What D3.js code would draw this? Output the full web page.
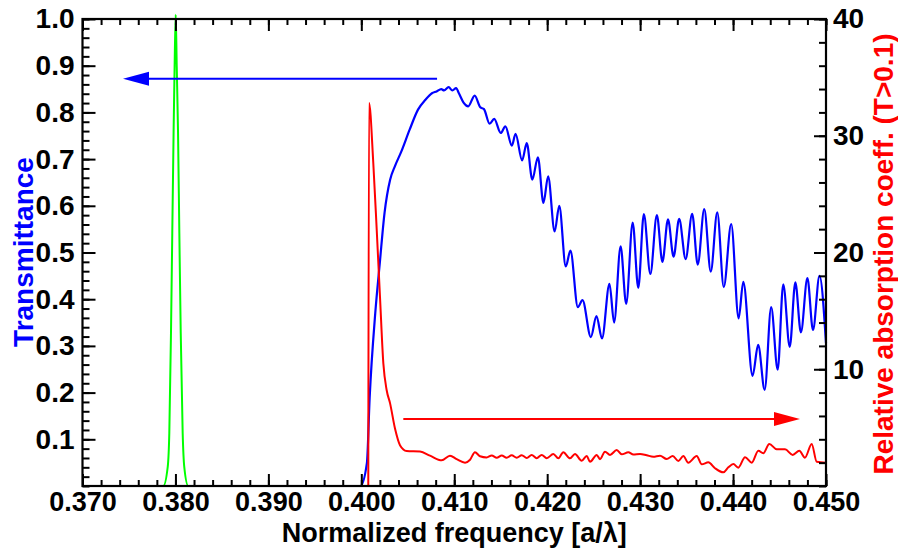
<!DOCTYPE html>
<html>
<head>
<meta charset="utf-8">
<script src="https://cdn.jsdelivr.net/npm/d3@7"></script>
<style>
  html, body { margin: 0; padding: 0; background: #fff; }
  svg text { font-family: "Liberation Sans", Arial, sans-serif; font-weight: bold; }
</style>
</head>
<body>
<svg id="chart" width="898" height="552"></svg>
<script>
// ---- data ----
const xTicks = [0.370, 0.380, 0.390, 0.400, 0.410, 0.420, 0.430, 0.440, 0.450];
const yLeftTicks = [0.1, 0.2, 0.3, 0.4, 0.5, 0.6, 0.7, 0.8, 0.9, 1.0];
const yRightTicks = [10, 20, 30, 40];

// Transmittance (blue), [frequency, T]
const transmittance = [
  [0.370,0],[0.3999,0],[0.4006,0.049],[0.4009,0.19],[0.4015,0.37],[0.4020,0.48],[0.4025,0.585],
  [0.4031,0.656],[0.4036,0.684],[0.4043,0.716],[0.4052,0.763],[0.4061,0.806],[0.4069,0.827],
  [0.4076,0.841],[0.4081,0.845],[0.4086,0.85],[0.4089,0.847],[0.4094,0.854],[0.4098,0.847],
  [0.4102,0.852],[0.4105,0.841],[0.4110,0.821],[0.4115,0.813],[0.4122,0.836],[0.4128,0.811],
  [0.4132,0.807],[0.4138,0.776],[0.4143,0.786],[0.4150,0.756],[0.4155,0.77],[0.4162,0.729],
  [0.4166,0.754],[0.4173,0.697],[0.4178,0.734],[0.4184,0.656],[0.4190,0.704],[0.4196,0.606],
  [0.4201,0.663],[0.4208,0.545],[0.4213,0.6],[0.4220,0.47],[0.4225,0.504],[0.4233,0.383],
  [0.4238,0.398],[0.4247,0.319],[0.4253,0.364],[0.4259,0.316],[0.4267,0.433],[0.4272,0.35],
  [0.4279,0.513],[0.4285,0.39],[0.4292,0.564],[0.4298,0.424],[0.4304,0.582],[0.4311,0.454],
  [0.4318,0.58],[0.4324,0.48],[0.4330,0.571],[0.4336,0.491],[0.4342,0.572],[0.4349,0.486],
  [0.4356,0.583],[0.4362,0.474],[0.4369,0.593],[0.4376,0.459],[0.4383,0.586],[0.4390,0.426],
  [0.4398,0.561],[0.4406,0.359],[0.4411,0.437],[0.4421,0.236],[0.4427,0.302],[0.4434,0.206],
  [0.4441,0.383],[0.4448,0.249],[0.4454,0.432],[0.4461,0.298],[0.4467,0.436],[0.4473,0.329],
  [0.4480,0.445],[0.4486,0.334],[0.4493,0.45],[0.4500,0.306]
];

// Relative absorption coefficient (red, right axis), [frequency, value]
const absorption = [
  [0.40075,0],[0.40083,32.8],[0.40129,27.65],[0.40166,21.9],[0.40201,16.2],[0.40237,10.5],
  [0.40273,8.2],[0.40309,7.1],[0.40363,4.9],[0.40416,3.5],[0.40488,3.0],[0.40632,2.95],
  [0.40739,2.6],[0.40865,2.2],[0.40954,2.6],[0.41026,2.3],[0.41116,2.0],[0.4117,2.25],
  [0.41223,2.9],[0.41277,2.55],[0.41349,2.45],[0.41403,2.62],[0.41457,2.42],[0.41511,2.62],
  [0.41564,2.42],[0.41618,2.64],[0.41672,2.42],[0.41726,2.64],[0.4178,2.4],[0.41833,2.66],
  [0.41887,2.38],[0.41941,2.66],[0.41995,2.38],[0.42066,2.74],[0.4212,2.37],[0.42173,2.89],
  [0.42246,2.37],[0.42299,2.74],[0.42371,2.17],[0.42425,2.57],[0.42461,2.08],[0.42533,2.66],
  [0.42568,2.3],[0.42622,2.94],[0.42676,2.66],[0.42748,3.08],[0.42802,2.71],[0.42873,2.89],
  [0.42927,2.69],[0.42999,2.74],[0.43071,2.63],[0.43142,2.51],[0.43214,2.6],[0.43286,2.31],
  [0.43351,2.57],[0.43411,2.14],[0.43465,2.57],[0.43518,2.0],[0.43609,2.57],[0.43663,1.86],
  [0.43734,2.03],[0.43806,1.52],[0.43895,1.17],[0.43949,1.6],[0.44003,1.88],[0.44056,1.57],
  [0.44129,2.46],[0.44201,2.0],[0.44272,3.02],[0.44325,2.8],[0.4439,3.6],[0.4447,3.14],
  [0.44559,3.14],[0.44642,2.66],[0.44713,3.02],[0.44774,2.43],[0.44846,3.6],[0.449,2.08],
  [0.450,2.0]
];

// Source spectrum (green), [frequency, T]
const source = [
  [0.370,0],[0.37869,0],[0.37917,0.041],[0.37934,0.113],[0.37952,0.327],[0.37966,0.541],
  [0.3798,0.756],[0.37991,0.898],[0.38003,1.009],[0.38014,0.898],[0.38028,0.756],
  [0.38042,0.541],[0.38057,0.327],[0.38078,0.113],[0.38095,0.041],[0.38138,0],[0.450,0]
];

// Arrows: [x0, y0] -> [x1, y1] (head at end)
const blueArrow = [[0.40815, 0.872], [0.37436, 0.872]];   // left axis units
const redArrow  = [[0.40452, 5.74], [0.4472, 5.74]];      // right axis units

// ---- layout ----
const W = 898, H = 552;
const L = 82.5, R = 826, T = 19, B = 486;
const svg = d3.select("#chart");
svg.append("rect").attr("width", W).attr("height", H).attr("fill", "#fff");

const x = d3.scaleLinear().domain([0.37, 0.45]).range([L, R]);
const yL = d3.scaleLinear().domain([0, 1]).range([B, T]);
const yR = d3.scaleLinear().domain([0, 40]).range([B, T]);

const xMinor = d3.range(0, 41).map(i => 0.37 + i * 0.002);
const yLMinor = d3.range(0, 51).map(i => i * 0.02);
const yRMinor = d3.range(0, 21).map(i => i * 2);

// curves
const lineL = d3.line().x(d => x(d[0])).y(d => yL(d[1])).curve(d3.curveMonotoneX);
const lineR = d3.line().x(d => x(d[0])).y(d => yR(d[1])).curve(d3.curveMonotoneX);

svg.append("path").datum(transmittance).attr("d", lineL)
  .attr("fill", "none").attr("stroke", "#0000ff").attr("stroke-width", 2.2).attr("stroke-linejoin", "round");
svg.append("path").datum(absorption).attr("d", lineR)
  .attr("fill", "none").attr("stroke", "#ff0000").attr("stroke-width", 2).attr("stroke-linejoin", "round");
svg.append("path").datum(source).attr("d", lineL)
  .attr("fill", "none").attr("stroke", "#00ff00").attr("stroke-width", 2).attr("stroke-linejoin", "round");

// arrows
function arrow(pts, ys, color) {
  const x0 = x(pts[0][0]), y0 = ys(pts[0][1]);
  const x1 = x(pts[1][0]), y1 = ys(pts[1][1]);
  const dir = Math.sign(x1 - x0);
  const headLen = 26, headHalf = 7;
  svg.append("line").attr("x1", x0).attr("y1", y0).attr("x2", x1 - dir * headLen + dir * 2).attr("y2", y1)
    .attr("stroke", color).attr("stroke-width", 2);
  svg.append("polygon")
    .attr("points", [[x1, y1], [x1 - dir * headLen, y1 - headHalf], [x1 - dir * headLen, y1 + headHalf]].map(p => p.join(",")).join(" "))
    .attr("fill", color);
}
arrow(blueArrow, yL, "#0000ff");
arrow(redArrow, yR, "#ff0000");

// axes
function styleAxis(size) {
  return function(g) {
    g.select(".domain").remove();
    g.selectAll(".tick line").attr("stroke", "#000").attr("stroke-width", 2);
    g.selectAll(".tick text").attr("fill", "#000").style("font-size", size).style("font-weight", "bold")
      .style("font-family", '"Liberation Sans", Arial, sans-serif');
  };
}
// bottom
svg.append("g").attr("transform", `translate(0,${B})`)
  .call(d3.axisBottom(x).tickValues(xMinor).tickSize(-6).tickFormat("")).call(styleAxis("27px"));
svg.append("g").attr("transform", `translate(0,${B})`)
  .call(d3.axisBottom(x).tickValues(xTicks).tickSize(-12).tickPadding(6).tickFormat(d3.format(".3f"))).call(styleAxis("27px"));
// top
svg.append("g").attr("transform", `translate(0,${T})`)
  .call(d3.axisTop(x).tickValues(xMinor).tickSize(-6).tickFormat("")).call(styleAxis("27px"));
svg.append("g").attr("transform", `translate(0,${T})`)
  .call(d3.axisTop(x).tickValues(xTicks).tickSize(-12).tickFormat("")).call(styleAxis("27px"));
// left
svg.append("g").attr("transform", `translate(${L},0)`)
  .call(d3.axisLeft(yL).tickValues(yLMinor).tickSize(-7).tickFormat("")).call(styleAxis("28px"));
svg.append("g").attr("transform", `translate(${L},0)`)
  .call(d3.axisLeft(yL).tickValues(yLeftTicks).tickSize(-13).tickPadding(8).tickFormat(d3.format(".1f"))).call(styleAxis("28px"));
// right
svg.append("g").attr("transform", `translate(${R},0)`)
  .call(d3.axisRight(yR).tickValues(yRMinor).tickSize(-7).tickFormat("")).call(styleAxis("28px"));
svg.append("g").attr("transform", `translate(${R},0)`)
  .call(d3.axisRight(yR).tickValues(yRightTicks).tickSize(-12).tickPadding(7).tickFormat(d3.format("d"))).call(styleAxis("28px"));

// frame
svg.append("rect").attr("x", L).attr("y", T).attr("width", R - L).attr("height", B - T)
  .attr("fill", "none").attr("stroke", "#000").attr("stroke-width", 2.2);

// titles
svg.append("text").attr("x", (L + R) / 2).attr("y", 542).attr("text-anchor", "middle")
  .style("font-size", "27px").attr("fill", "#000").text("Normalized frequency [a/λ]");
svg.append("text").attr("transform", "translate(33,252) rotate(-90)").attr("text-anchor", "middle")
  .style("font-size", "28px").attr("fill", "#0000ff").text("Transmittance");
svg.append("text").attr("transform", "translate(893,254) rotate(-90)").attr("text-anchor", "middle")
  .style("font-size", "28px").attr("fill", "#ff0000").text("Relative absorption coeff. (T>0.1)");
</script>
</body>
</html>
